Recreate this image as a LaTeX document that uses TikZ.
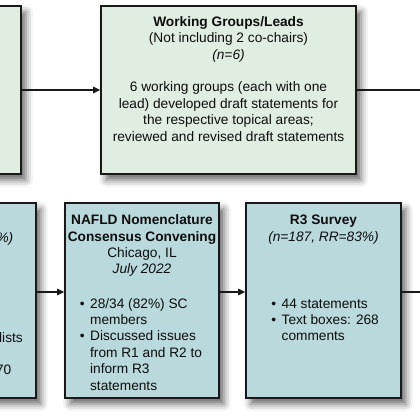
\documentclass[tikz,border=0pt]{standalone}
\usepackage{fontspec}
\setmainfont{Liberation Sans}
\usetikzlibrary{arrows.meta, positioning, shadows.blur}
\definecolor{leadfill}{HTML}{DFEEE0}
\definecolor{surveyfill}{HTML}{B9D9DC}

\begin{document}
\begin{tikzpicture}[x=1pt, y=-1pt, >={Triangle[length=7pt, width=6.5pt]},
    font=\fontsize{13.7}{16.4}\selectfont,
    box/.style={draw=black!90, line width=1.7pt, inner sep=0pt,
        blur shadow={shadow xshift=5pt, shadow yshift=-6pt,
                     shadow blur radius=7pt, shadow opacity=60}},
    leadbox/.style={box, fill=leadfill},
    surveybox/.style={box, fill=surveyfill},
    txt/.style={inner sep=0pt, align=center, text=black!95},
    link/.style={line width=1.2pt, draw=black!90}]
    \useasboundingbox (0,0) rectangle (420,420);
    \clip (0,0) rectangle (420,420);

    % Top row
    \node[leadbox, minimum width=200pt, minimum height=168pt] (sc) at (-79,90) {};
    \node[leadbox, minimum width=255pt, minimum height=168pt] (wg) at (228.5,90) {};

    % Bottom row
    \node[surveybox, minimum width=200pt, minimum height=195pt] (r2) at (-64,300.5) {};
    \node[surveybox, minimum width=154pt, minimum height=195pt] (conv) at (142,300.5) {};
    \node[surveybox, minimum width=155pt, minimum height=195pt] (r3) at (323.5,300.5) {};

    % Connectors
    \coordinate (topout) at (425,90);
    \coordinate (botout) at (425,292);
    \draw[link, ->] (sc.east) -- (wg.west);
    \draw[link] (wg.east) -- (topout);
    \draw[link, ->] ([yshift=8.5pt]r2.east) -- ([yshift=8.5pt]conv.west);
    \draw[link, ->] ([yshift=8.5pt]conv.east) -- ([yshift=8.5pt]r3.west);
    \draw[link] ([yshift=8.5pt]r3.east) -- (botout);

    % Working groups text
    \node[txt, anchor=north] (wgtext) at ([yshift=-11pt]wg.north)
        {\textbf{Working Groups/Leads}\\(Not including 2 co-chairs)\\\textit{(n=6)}\\[16.4pt]
         6 working groups (each with one\\lead) developed draft statements for\\
         the respective topical areas;\\reviewed and revised draft statements};

    % Convening text
    \node[txt, anchor=north] (convhead) at ([yshift=-12.5pt]conv.north)
        {\textbf{NAFLD Nomenclature}\\\textbf{Consensus Convening}\\Chicago, IL\\\textit{July 2022}};
    \node[txt, anchor=north west] (convlist) at ([xshift=15.5pt, yshift=-94.3pt]conv.north west)
        {\begin{tabular}{@{}l@{\hspace{5.5pt}}l@{}}
         \textbullet & 28/34 (82\%) SC\\
                     & members\\
         \textbullet & Discussed issues\\
                     & from R1 and R2 to\\
                     & inform R3\\
                     & statements
         \end{tabular}};

    % R3 survey text
    \node[txt, anchor=north] (r3head) at ([yshift=-13pt]r3.north)
        {\textbf{R3 Survey}\\\textit{(n=187, RR=83\%)}};
    \node[txt, anchor=north west] (r3list) at ([xshift=26pt, yshift=-94.3pt]r3.north west)
        {\begin{tabular}{@{}l@{\hspace{5.5pt}}l@{}}
         \textbullet & 44 statements\\
         \textbullet & Text boxes: 268\\
                     & comments
         \end{tabular}};

    % Cut-off text of the R2 box
    \node[txt, anchor=base east] (r2a) at (13.5,242) {\textit{\%)}};
    \node[txt, anchor=base east] (r2b) at (23,342) {lists};
    \node[txt, anchor=base east] (r2c) at (11.5,374) {70};
\end{tikzpicture}
\end{document}
